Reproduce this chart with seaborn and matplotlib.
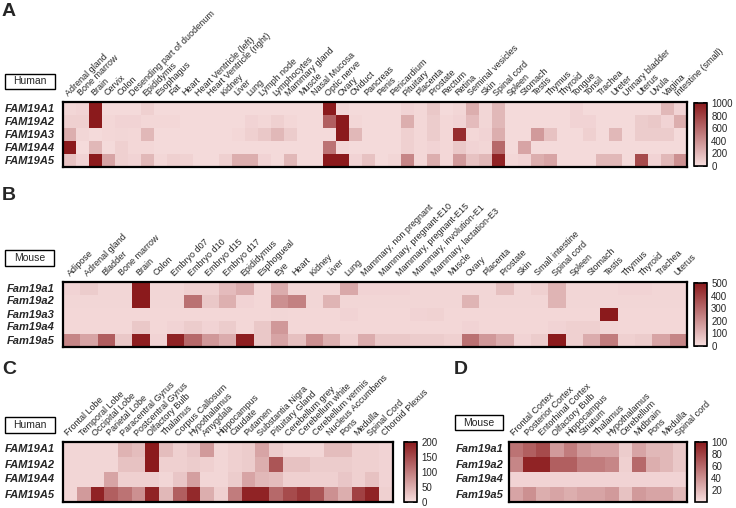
import numpy as np
import pandas as pd
import matplotlib
matplotlib.use('Agg')
import matplotlib.pyplot as plt
import seaborn as sns
from matplotlib.colors import LinearSegmentedColormap
from matplotlib.patches import Rectangle

# ---------------- data ----------------
human_tissues = ["Adrenal gland", "Bone marrow", "Brain", "Cervix", "Colon",
                 "Desending part of duodenum", "Epididymis", "Esophagus", "Fat", "Heart",
                 "Heart Ventricle (left)", "Heart Ventricle (right)", "Kidney", "Liver", "Lung",
                 "Lymph node", "Lymphocytes", "Mammary gland", "Muscle", "Nasal Mucosa",
                 "Optic nerve", "Ovary", "Oviduct", "Pancreas", "Penis", "Pericardium",
                 "Pituitary", "Placenta", "Prostate", "Rectum", "Retina", "Seminal vesicles",
                 "Skin", "Spinal cord", "Spleen", "Stomach", "Testis", "Thymus", "Thyroid",
                 "Tongue", "Tonsil", "Trachea", "Ureter", "Urinary bladder", "Uterus", "Uvula",
                 "Vagina", "Intestine (small)"]
human_genes_a = ["FAM19A1", "FAM19A2", "FAM19A3", "FAM19A4", "FAM19A5"]
a_fam19a1 = [50, 60, 1000, 30, 30, 30, 80, 30, 30, 30, 30, 30, 30, 30, 30, 30, 30, 30, 30, 30,
             1000, 50, 30, 30, 30, 30, 60, 40, 120, 30, 50, 250, 50, 200, 30, 30, 30, 30, 30,
             60, 30, 30, 30, 30, 30, 30, 200, 60]
a_fam19a2 = [80, 80, 1000, 40, 60, 60, 40, 40, 40, 30, 30, 30, 30, 30, 60, 40, 80, 40, 30, 30,
             650, 1000, 40, 30, 30, 30, 250, 40, 100, 40, 60, 180, 50, 200, 30, 30, 30, 30, 30,
             60, 60, 30, 30, 30, 100, 120, 60, 250]
a_fam19a3 = [250, 50, 30, 40, 50, 40, 200, 30, 30, 30, 30, 30, 30, 40, 80, 120, 200, 100, 30, 30,
             30, 1000, 200, 30, 30, 30, 80, 40, 100, 40, 900, 40, 60, 250, 30, 30, 350, 150, 30,
             30, 80, 30, 200, 30, 100, 100, 100, 30]
a_fam19a4 = [1000, 20, 200, 30, 80, 40, 40, 30, 30, 30, 30, 30, 30, 30, 30, 30, 30, 30, 30, 30,
             550, 40, 30, 30, 30, 30, 80, 40, 60, 40, 120, 60, 50, 600, 30, 300, 30, 30, 30,
             30, 30, 30, 30, 30, 30, 30, 30, 30]
a_fam19a5 = [150, 60, 1000, 300, 80, 60, 200, 40, 80, 70, 30, 30, 80, 250, 250, 60, 30, 200, 30, 30,
             1000, 1000, 60, 150, 30, 50, 450, 40, 250, 40, 350, 150, 200, 950, 40, 60, 250, 300, 30,
             30, 30, 200, 200, 30, 750, 60, 200, 400]

mouse_tissues = ["Adipose", "Adrenal gland", "Bladder", "Bone marrow", "Brain", "Colon",
                 "Embryo d07", "Embryo d10", "Embryo d15", "Embryo d17", "Epididymus",
                 "Esphogueal", "Eye", "Heart", "Kidney", "Liver", "Lung",
                 "Mammary, non pregnant", "Mammary, pregnant-E10", "Mammary, pregnant-E15",
                 "Mammary, involution-E1", "Mammary, lactation-E3", "Muscle", "Ovary",
                 "Placenta", "Prostate", "Skin", "Small intestine", "Spinal cord", "Spleen",
                 "Stomach", "Testis", "Thymus", "Thyroid", "Trachea", "Uterus"]
mouse_genes_b = ["Fam19a1", "Fam19a2", "Fam19a3", "Fam19a4", "Fam19a5"]
b_fam19a1 = [30, 50, 25, 25, 500, 25, 25, 40, 40, 90, 130, 20, 130, 25, 25, 25, 140, 30,
             30, 30, 25, 25, 25, 25, 25, 80, 25, 40, 110, 25, 25, 25, 30, 30, 25, 25]
b_fam19a2 = [25, 25, 25, 25, 500, 25, 25, 280, 60, 120, 30, 20, 200, 240, 25, 110, 25, 25,
             25, 25, 25, 25, 25, 110, 25, 25, 25, 25, 110, 25, 25, 25, 25, 25, 25, 25]
b_fam19a3 = [20, 20, 20, 20, 20, 20, 20, 20, 20, 20, 20, 20, 25, 20, 20, 20, 30, 20,
             20, 20, 30, 35, 20, 20, 20, 20, 20, 20, 20, 20, 20, 500, 20, 20, 20, 20]
b_fam19a4 = [20, 20, 20, 20, 60, 20, 30, 50, 30, 50, 20, 60, 180, 20, 20, 20, 20, 20,
             20, 20, 20, 20, 20, 30, 20, 20, 20, 20, 30, 40, 40, 25, 20, 20, 20, 20]
b_fam19a5 = [230, 150, 330, 60, 490, 30, 480, 300, 180, 130, 490, 60, 150, 80, 200, 120, 40, 130,
             60, 60, 50, 50, 40, 280, 180, 130, 30, 50, 500, 40, 130, 250, 40, 50, 150, 230]

human_brain = ["Frontal Lobe", "Temporal Lobe", "Occipital Lobe", "Parietal Lobe",
               "Paracentral Gyrus", "Postcentral Gyrus", "Olfactory Bulb", "Thalamus",
               "Corpus Callosum", "Hypothalamus", "Amygdala", "Hippocampus", "Caudate",
               "Putamen", "Substantia Nigra", "Pituitary Gland", "Cerebellum grey",
               "Cerebellum white", "Cerebellum vermis", "Nucleus Accumbens", "Pons",
               "Medulla", "Spinal Cord", "Choroid Plexus"]
human_genes_c = ["FAM19A1", "FAM19A2", "FAM19A4", "FAM19A5"]
c_fam19a1 = [10, 10, 10, 10, 45, 35, 200, 35, 15, 25, 70, 10, 15, 20, 60, 20, 10, 10, 10, 35, 35, 15, 15, 12]
c_fam19a2 = [10, 10, 10, 10, 30, 30, 200, 15, 15, 20, 15, 10, 15, 20, 50, 140, 30, 30, 20, 20, 20, 15, 15, 12]
c_fam19a4 = [10, 10, 10, 60, 15, 15, 15, 10, 25, 65, 10, 10, 20, 60, 40, 35, 15, 15, 15, 15, 25, 15, 30, 12]
c_fam19a5 = [10, 70, 190, 130, 110, 80, 190, 40, 130, 185, 50, 15, 100, 190, 190, 120, 150, 170, 140, 80, 50, 160, 190, 15]

mouse_brain = ["Frontal Cortex", "Posterior Cortex", "Entorhinal Cortex", "Olfactory Bulb",
               "Hippocampus", "Striatum", "Thalamus", "Hypothalamus", "Cerebellum",
               "Midbrain", "Pons", "Medulla", "Spinal cord"]
mouse_genes_d = ["Fam19a1", "Fam19a2", "Fam19a4", "Fam19a5"]
d_fam19a1 = [55, 65, 75, 35, 50, 35, 30, 30, 10, 30, 20, 20, 12]
d_fam19a2 = [45, 95, 95, 65, 65, 50, 50, 45, 8, 60, 25, 20, 12]
d_fam19a4 = [6, 6, 6, 6, 6, 6, 6, 6, 6, 6, 6, 6, 6]
d_fam19a5 = [30, 40, 25, 30, 25, 30, 30, 35, 15, 35, 30, 30, 20]

# ---------------- style ----------------
sns.set_theme(style='white')
plt.rcParams['font.family'] = ['Liberation Sans', 'DejaVu Sans']

W, H = 736, 508
fig = plt.figure(figsize=(W / 100, H / 100), dpi=100)


def box(x0, y0, x1, y1):
    return [x0 / W, 1 - y1 / H, (x1 - x0) / W, (y1 - y0) / H]


cmap = LinearSegmentedColormap.from_list('pinkred', ['#f7dfdf', '#8b1a1c'])


def panel(rows, cols, values, vmax, ticks, hm, cb, ypad=6):
    ax = fig.add_axes(box(*hm))
    cax = fig.add_axes(box(*cb))
    df = pd.DataFrame(values, index=rows, columns=cols)
    sns.heatmap(df, ax=ax, cmap=cmap, vmin=0, vmax=vmax, cbar_ax=cax,
                cbar_kws={'ticks': ticks}, xticklabels=True, yticklabels=True)
    ax.xaxis.tick_top()
    ax.set_xticklabels(cols, rotation=45, ha='left', va='bottom',
                       rotation_mode='anchor', fontsize=6.5)
    ax.set_yticklabels(rows, rotation=0, fontsize=8, fontweight='bold', fontstyle='italic')
    ax.tick_params(axis='x', length=0, pad=3)
    ax.tick_params(axis='y', length=0, pad=ypad)
    ax.set_xlabel('')
    ax.set_ylabel('')
    for s in ax.spines.values():
        s.set_visible(True)
        s.set_linewidth(1.6)
        s.set_color('black')
    cbar = ax.collections[0].colorbar
    cbar.outline.set_linewidth(1.2)
    cbar.outline.set_edgecolor('black')
    cax.yaxis.set_ticks_position('both')
    cax.tick_params(axis='y', direction='in', length=3, width=1.3, color='black',
                    labelsize=7, labelleft=False, labelright=True, pad=3)
    return ax


def species_box(x0, y0, x1, y1, text):
    fig.patches.append(Rectangle((x0 / W, 1 - y1 / H), (x1 - x0) / W, (y1 - y0) / H,
                                 transform=fig.transFigure, fill=False,
                                 edgecolor='black', linewidth=1.0))
    fig.text((x0 + x1) / 2 / W, 1 - (y0 + y1) / 2 / H, text, ha='center', va='center',
             fontsize=7.5)


# Panel A
panel(human_genes_a, human_tissues,
      [a_fam19a1, a_fam19a2, a_fam19a3, a_fam19a4, a_fam19a5],
      1000, [0, 200, 400, 600, 800, 1000], (63, 102, 687, 167), (694, 103, 707, 166))
# Panel B
panel(mouse_genes_b, mouse_tissues,
      [b_fam19a1, b_fam19a2, b_fam19a3, b_fam19a4, b_fam19a5],
      500, [0, 100, 200, 300, 400, 500], (63, 282, 687, 347), (694, 283, 707, 346))
# Panel C
panel(human_genes_c, human_brain,
      [c_fam19a1, c_fam19a2, c_fam19a4, c_fam19a5],
      200, [0, 50, 100, 150, 200], (63, 442, 393, 502), (404, 442, 417, 502))
# Panel D
panel(mouse_genes_d, mouse_brain,
      [d_fam19a1, d_fam19a2, d_fam19a4, d_fam19a5],
      100, [20, 40, 60, 80, 100], (509, 442, 687, 502), (695, 442, 707, 502), ypad=4)

species_box(5, 74, 55, 89, 'Human')
species_box(5, 250, 54, 266, 'Mouse')
species_box(5, 417, 55, 433, 'Human')
species_box(455, 415, 503, 430, 'Mouse')

for lab, x, y in [('A', 2, 3), ('B', 2, 187), ('C', 2, 361), ('D', 454, 361)]:
    fig.text(x / W, 1 - y / H, lab, fontsize=14, fontweight='bold', ha='left', va='top')

fig.savefig('out.png', dpi=100)
